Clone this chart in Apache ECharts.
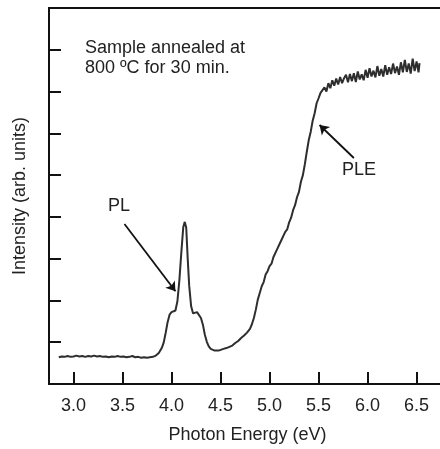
<!DOCTYPE html>
<html>
<head>
<meta charset="utf-8">
<title>PL / PLE spectrum</title>
<script src="https://cdn.jsdelivr.net/npm/echarts@6/dist/echarts.min.js"></script>
<style>
  html, body { margin: 0; padding: 0; background: #fff; }
  #chart { width: 440px; height: 449px; }
</style>
</head>
<body>
<div id="chart"></div>
<script>
// spectrum, [photon energy (eV), intensity (arb.)]
var baseline = [
    [2.85, 0.64], [2.88, 0.66], [2.91, 0.65], [2.94, 0.67], [2.97, 0.65], [3.00, 0.66],
    [3.03, 0.68], [3.06, 0.66], [3.09, 0.67], [3.12, 0.65], [3.15, 0.67], [3.18, 0.66],
    [3.21, 0.68], [3.24, 0.66], [3.27, 0.67], [3.30, 0.65], [3.33, 0.66], [3.36, 0.64],
    [3.39, 0.66], [3.42, 0.65], [3.45, 0.67], [3.48, 0.65], [3.51, 0.66], [3.54, 0.64],
    [3.57, 0.65], [3.60, 0.67], [3.63, 0.64], [3.66, 0.65], [3.69, 0.63], [3.72, 0.64],
    [3.75, 0.63], [3.78, 0.64], [3.81, 0.65], [3.84, 0.68]
];
var plPeak = [
    [3.87, 0.74], [3.90, 0.86], [3.92, 0.99], [3.94, 1.22], [3.96, 1.48], [3.98, 1.66],
    [4.00, 1.72], [4.02, 1.73], [4.04, 1.76], [4.06, 1.98], [4.08, 2.48], [4.10, 3.15],
    [4.12, 3.76], [4.135, 3.88], [4.15, 3.74], [4.165, 3.0], [4.18, 2.36], [4.20, 1.86],
    [4.22, 1.69], [4.24, 1.68], [4.26, 1.72], [4.28, 1.70], [4.30, 1.58], [4.32, 1.42],
    [4.34, 1.18], [4.36, 1.01], [4.38, 0.90], [4.40, 0.84], [4.42, 0.82], [4.44, 0.80],
    [4.46, 0.79], [4.48, 0.80], [4.50, 0.81]
];
var pleRise = [
    [4.53, 0.84], [4.56, 0.86], [4.59, 0.89], [4.62, 0.92], [4.65, 0.98], [4.68, 1.03],
    [4.71, 1.10], [4.74, 1.16], [4.77, 1.23], [4.80, 1.32], [4.82, 1.43], [4.84, 1.58],
    [4.86, 1.78], [4.88, 2.02], [4.90, 2.18], [4.92, 2.34], [4.94, 2.44], [4.96, 2.62],
    [4.98, 2.70], [5.00, 2.82], [5.02, 2.88], [5.04, 3.04], [5.06, 3.08], [5.08, 3.24],
    [5.10, 3.28], [5.12, 3.44], [5.14, 3.48], [5.16, 3.64], [5.18, 3.70], [5.20, 3.87],
    [5.22, 3.98], [5.24, 4.16], [5.26, 4.28], [5.28, 4.47], [5.30, 4.60], [5.32, 4.84],
    [5.34, 5.00], [5.36, 5.26], [5.38, 5.56], [5.40, 5.84], [5.42, 6.04], [5.44, 6.30],
    [5.46, 6.48], [5.48, 6.72], [5.50, 6.84], [5.52, 6.97], [5.54, 6.98]
];
var plateau = [
    [5.56, 7.10], [5.58, 7.00], [5.60, 7.20], [5.62, 7.08], [5.64, 7.27], [5.66, 7.14],
    [5.68, 7.31], [5.70, 7.17], [5.72, 7.35], [5.74, 7.20], [5.76, 7.32], [5.78, 7.40],
    [5.80, 7.22], [5.82, 7.42], [5.84, 7.25], [5.86, 7.44], [5.88, 7.23], [5.90, 7.48],
    [5.92, 7.29], [5.94, 7.41], [5.96, 7.27], [5.98, 7.52], [6.00, 7.33], [6.02, 7.56],
    [6.04, 7.36], [6.06, 7.50], [6.08, 7.34], [6.10, 7.61], [6.12, 7.38], [6.14, 7.54],
    [6.16, 7.36], [6.18, 7.63], [6.20, 7.40], [6.22, 7.58], [6.24, 7.42], [6.26, 7.67],
    [6.28, 7.44], [6.30, 7.60], [6.32, 7.40], [6.34, 7.70], [6.36, 7.46], [6.38, 7.76],
    [6.40, 7.47], [6.42, 7.67], [6.44, 7.43], [6.46, 7.79], [6.48, 7.49], [6.50, 7.72],
    [6.52, 7.46], [6.53, 7.68]
];

// arrows (from, to) in data units
var plArrow = [[3.52, 3.83], [4.04, 2.22]];
var pleArrow = [[5.86, 5.41], [5.51, 6.20]];

var spectrum = baseline.concat(plPeak, pleRise, plateau);
var font = 'Liberation Sans, Arial, Helvetica, sans-serif';

var myChart = echarts.init(document.getElementById('chart'));

var option = {
    backgroundColor: '#fff',
    animation: false,
    grid: {
        left: 49,
        top: 8,
        width: 397,
        height: 376,
        outerBoundsMode: 'none',
        show: true,
        borderColor: '#111',
        borderWidth: 2
    },
    xAxis: {
        type: 'value',
        min: 2.75,
        max: 6.8,
        splitNumber: 8,
        name: 'Photon Energy (eV)',
        nameLocation: 'middle',
        nameGap: 42,
        nameTextStyle: { fontFamily: font, fontSize: 18, color: '#222' },
        axisLine: { lineStyle: { color: '#111', width: 2 } },
        axisTick: { inside: true, length: 12, lineStyle: { color: '#111', width: 2 } },
        axisLabel: {
            margin: 13,
            fontFamily: font,
            fontSize: 18,
            color: '#222',
            showMinLabel: false,
            showMaxLabel: false,
            formatter: function (v) { return v.toFixed(1); }
        },
        splitLine: { show: false }
    },
    yAxis: {
        type: 'value',
        min: 0,
        max: 9,
        interval: 1,
        name: 'Intensity (arb. units)',
        nameLocation: 'middle',
        nameGap: 20,
        nameTextStyle: { fontFamily: font, fontSize: 18, color: '#222' },
        axisLine: { show: true, lineStyle: { color: '#111', width: 2 } },
        axisTick: { show: true, inside: true, length: 12, lineStyle: { color: '#111', width: 2 } },
        axisLabel: { show: false },
        splitLine: { show: false }
    },
    graphic: [
        {
            type: 'text',
            left: 85,
            top: 38,
            style: {
                text: 'Sample annealed at\n800 ºC for 30 min.',
                font: '18px ' + font,
                lineHeight: 20,
                fill: '#222'
            }
        },
        {
            type: 'text',
            left: 108,
            top: 197,
            style: { text: 'PL', font: '18px ' + font, fill: '#222' }
        },
        {
            type: 'text',
            left: 342,
            top: 161,
            style: { text: 'PLE', font: '18px ' + font, fill: '#222' }
        }
    ],
    series: [
        {
            type: 'line',
            data: spectrum,
            showSymbol: false,
            smooth: false,
            lineStyle: { color: '#2e2e2e', width: 2 },
            markLine: {
                silent: true,
                symbol: ['none', 'arrow'],
                symbolSize: 9,
                label: { show: false },
                lineStyle: { color: '#111', width: 1.8, type: 'solid' },
                data: [
                    [{ coord: plArrow[0] }, { coord: plArrow[1] }],
                    [{ coord: pleArrow[0] }, { coord: pleArrow[1] }]
                ]
            }
        }
    ]
};

myChart.setOption(option);
window.addEventListener('resize', function () {
    myChart.resize()
})
</script>
</body>
</html>
